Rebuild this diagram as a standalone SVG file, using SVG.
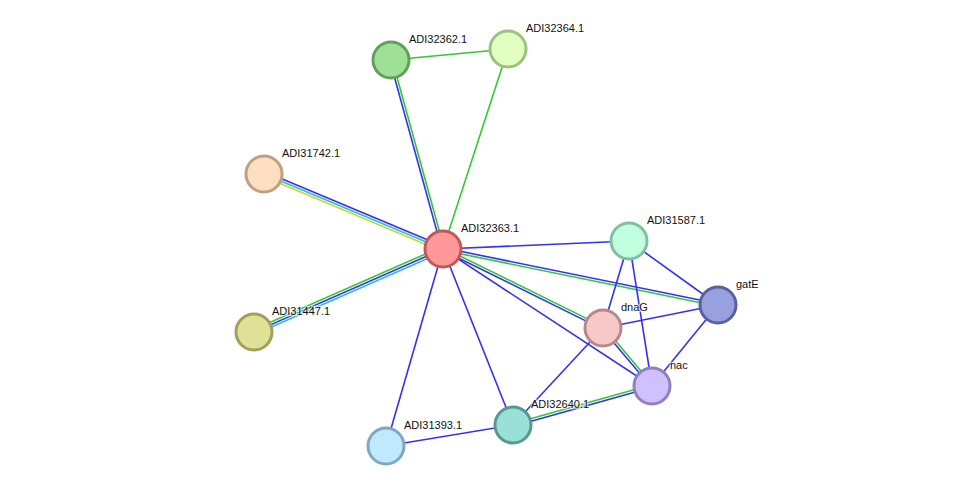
<svg xmlns="http://www.w3.org/2000/svg" width="976" height="492" viewBox="0 0 976 492">
<style>
.e line{stroke-width:1.6;fill:none}
.b{stroke:#3333ee}
.g{stroke:#33c833}
.c{stroke:#33b8e0}
.y{stroke:#c0d838}
.n circle{stroke-width:3}
text{font-family:"Liberation Sans",Arial,sans-serif;font-size:11px;fill:#111;stroke:#fff;stroke-width:2.5;stroke-opacity:0.6;paint-order:stroke}
</style>
<rect width="976" height="492" fill="#fff"/>
<g id="edges" class="e">
<line class="g" x1="391" y1="60" x2="508" y2="49"/>
<line class="b" x1="389.8" y1="60.3" x2="441.8" y2="249.3"/>
<line class="g" x1="392.2" y1="59.7" x2="444.2" y2="248.7"/>
<line class="g" x1="508" y1="49" x2="443" y2="249"/>
<line class="b" x1="265" y1="171.7" x2="444" y2="246.7"/>
<line class="c" x1="264" y1="174" x2="443" y2="249"/>
<line class="y" x1="263" y1="176.3" x2="442" y2="251.3"/>
<line class="g" x1="253" y1="329.7" x2="442" y2="246.7"/>
<line class="b" x1="254" y1="332" x2="443" y2="249"/>
<line class="c" x1="255" y1="334.3" x2="444" y2="251.3"/>
<line class="b" x1="443" y1="249" x2="629" y2="241"/>
<line class="b" x1="443.25" y1="247.8" x2="718.25" y2="303.8"/>
<line class="g" x1="442.75" y1="250.2" x2="717.75" y2="306.2"/>
<line class="g" x1="443.55" y1="247.9" x2="603.55" y2="326.9"/>
<line class="b" x1="442.45" y1="250.1" x2="602.45" y2="329.1"/>
<line class="b" x1="443" y1="249" x2="652" y2="386"/>
<line class="b" x1="443" y1="249" x2="513" y2="425"/>
<line class="b" x1="443" y1="249" x2="386" y2="446"/>
<line class="b" x1="629" y1="241" x2="718" y2="305"/>
<line class="b" x1="629" y1="241" x2="603" y2="328"/>
<line class="b" x1="629" y1="241" x2="652" y2="386"/>
<line class="b" x1="603" y1="328" x2="718" y2="305"/>
<line class="b" x1="718" y1="305" x2="652" y2="386"/>
<line class="b" x1="602" y1="328.8" x2="651" y2="386.8"/>
<line class="g" x1="604" y1="327.2" x2="653" y2="385.2"/>
<line class="b" x1="603" y1="328" x2="513" y2="425"/>
<line class="g" x1="512.7" y1="423.8" x2="651.7" y2="384.8"/>
<line class="b" x1="513.3" y1="426.2" x2="652.3" y2="387.2"/>
<line class="b" x1="513" y1="425" x2="386" y2="446"/>
</g>
<g id="ADI32362.1" class="n"><circle cx="391" cy="60" r="18" fill="#a0e096" stroke="#60a058"/><text x="409" y="43">ADI32362.1</text></g>
<g id="ADI32364.1" class="n"><circle cx="508" cy="49" r="18" fill="#e0ffc0" stroke="#a0c080"/><text x="526" y="32">ADI32364.1</text></g>
<g id="ADI31742.1" class="n"><circle cx="264" cy="174" r="18" fill="#ffdfc0" stroke="#c0a080"/><text x="282" y="157">ADI31742.1</text></g>
<g id="ADI32363.1" class="n"><circle cx="443" cy="249" r="18" fill="#ff9898" stroke="#c05858"/><text x="461" y="232">ADI32363.1</text></g>
<g id="ADI31587.1" class="n"><circle cx="629" cy="241" r="18" fill="#c0ffe0" stroke="#80c0a0"/><text x="647" y="224">ADI31587.1</text></g>
<g id="gatE" class="n"><circle cx="718" cy="305" r="18" fill="#98a0e0" stroke="#5860a0"/><text x="736" y="288">gatE</text></g>
<g id="dnaG" class="n"><circle cx="603" cy="328" r="18" fill="#f8c8c8" stroke="#b88888"/><text x="621" y="311">dnaG</text></g>
<g id="nac" class="n"><circle cx="652" cy="386" r="18" fill="#d0c0ff" stroke="#9080c0"/><text x="670" y="369">nac</text></g>
<g id="ADI31447.1" class="n"><circle cx="254" cy="332" r="18" fill="#e0e098" stroke="#a0a058"/><text x="272" y="315">ADI31447.1</text></g>
<g id="ADI31393.1" class="n"><circle cx="386" cy="446" r="18" fill="#c0e8ff" stroke="#80a8c0"/><text x="404" y="429">ADI31393.1</text></g>
<g id="ADI32640.1" class="n"><circle cx="513" cy="425" r="18" fill="#98e0d8" stroke="#589890"/><text x="531" y="408">ADI32640.1</text></g>
</svg>
